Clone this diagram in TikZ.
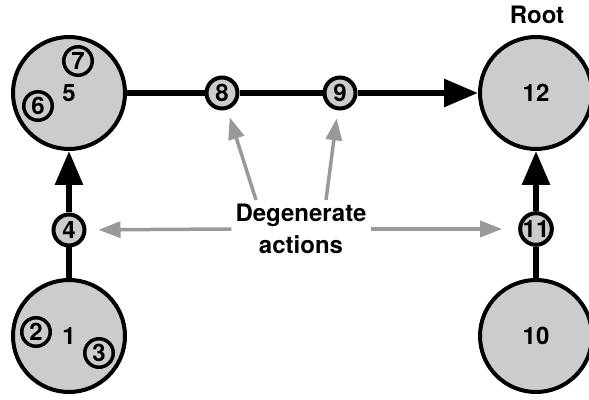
\documentclass[tikz,border=0pt]{standalone}
\usepackage{fontspec}
\setmainfont{TeX Gyre Heros}
\usetikzlibrary{arrows.meta, positioning, calc}

\definecolor{stategray}{RGB}{204,204,204}
\definecolor{hintgray}{RGB}{153,153,153}

\begin{document}
\begin{tikzpicture}[
    x = 1pt, y = 1pt,
    every node/.style = {font=\fontsize{24}{32}\selectfont\bfseries},
    state/.style = {
        circle,
        draw,
        line width=4pt,
        fill=stategray,
        minimum size=112pt,
        inner sep=0pt
    },
    action/.style = {
        circle,
        draw,
        line width=4pt,
        fill=stategray,
        minimum size=31pt,
        inner sep=0pt
    },
    sub/.style = {
        circle,
        draw,
        line width=3.5pt,
        minimum size=28.5pt,
        inner sep=0pt
    },
    edge/.style = {line width=6pt},
    arr/.style = {
        edge,
        -{Triangle[length=34pt,width=27pt]}
    },
    hint/.style = {
        -{Triangle[length=22pt,width=16pt]},
        line width=3.5pt,
        color=hintgray
    }
]
\useasboundingbox (0,0) rectangle (589,399);

%% States
\node[state] (n5)  at (69,306)  {5};
\node[state] (n1)  at (69,63)   {1};
\node[state] (n12) at (536,306) {12};
\node[state] (n10) at (536,63)  {10};
\node (root) at (537,384) {Root};

%% Sub-states inside the big circles
\node[sub] (n7) at (78,338) {7};
\node[sub] (n6) at (38,293) {6};
\node[sub] (n2) at (36,67)  {2};
\node[sub] (n3) at (99,46)  {3};

%% Actions
\node[action] (n4)  at (69,169)  {4};
\node[action] (n8)  at (222,306) {8};
\node[action] (n9)  at (340,306) {9};
\node[action] (n11) at (536,170) {11};

%% Transitions
\draw[edge] (n1)  -- (n4);
\draw[arr]  (n4)  -- (n5);
\draw[edge] (n5)  -- (n8);
\draw[edge] (n8)  -- (n9);
\draw[arr]  (n9)  -- (n12);
\draw[edge] (n10) -- (n11);
\draw[arr]  (n11) -- (n12);

%% Label with pointers
\node[align=center, inner sep=4pt] (deg) at (301,170) {Degenerate\\actions};
\coordinate (d8) at ($(deg.north)+(-45,0)$);
\coordinate (d9) at ($(deg.north)+(25,0)$);
\draw[hint, shorten >=12pt] (deg.west) -- (n4);
\draw[hint, shorten >=16pt] (deg.east) -- (n11);
\draw[hint, shorten >=8pt]  (d8) -- (n8);
\draw[hint, shorten >=8pt]  (d9) -- (n9);

\end{tikzpicture}
\end{document}
